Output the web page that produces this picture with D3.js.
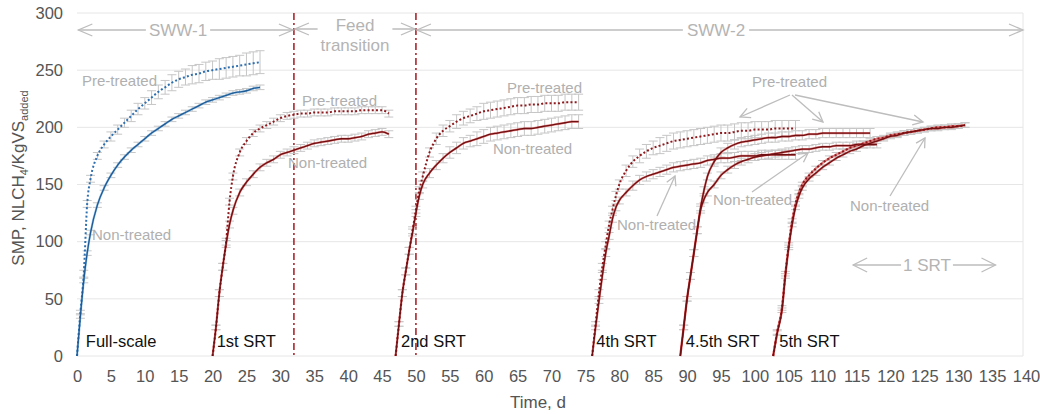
<!DOCTYPE html>
<html><head><meta charset="utf-8">
<script src="https://cdn.jsdelivr.net/npm/d3@7"></script>
<style>
body{margin:0;background:#fff}
svg{display:block;font-family:"Liberation Sans",Arial,Helvetica,sans-serif}
</style>
</head><body>
<svg id="chart" width="1040" height="414"></svg>
<script>
// ---------- DATA ----------
const xTicks = [0,5,10,15,20,25,30,35,40,45,50,55,60,65,70,75,80,85,90,95,100,105,110,115,120,125,130,135,140];
const yTicks = [0,50,100,150,200,250,300];
const phaseLines = [32, 50];               // feed-change days
const srtLabels = ["Full-scale","1st SRT","2nd SRT","4th SRT","4.5th SRT","5th SRT"];

// each point: [day, SMP (NL CH4/kg VS added), error]
const fullPre = [[0,0,1],[0.5,38,2],[1,72,3],[1.5,133,3],[2,155,3],[3,175,3],[4,185,3],[5,192,4],[6,198,4],[7,204,4],[8,210,5],[9,216,5],[10,221,5],[11,226,6],[12,231,6],[13,235,6],[14,239,7],[15,242,7],[16,244,7],[17,246,8],[18,247,8],[19,249,8],[20,250,8],[21,251,9],[22,252,9],[23,253,9],[24,254,9],[25,255,10],[26,256,10],[27,257,10]];
const fullNon = [[0,0,1],[0.5,35,2],[1,66,2],[1.5,90,2],[2,108,2],[3,132,2],[4,147,2],[5,158,2],[6,167,2],[7,174,2],[8,180,2],[9,185,2],[10,190,2],[11,195,2],[12,199,2],[13,203,2],[14,207,2],[15,210,2],[16,213,2],[17,216,2],[18,219,2],[19,222,2],[20,224,2],[21,226,2],[22,228,2],[23,230,2],[24,231,2],[25,232,2],[26,234,2],[27,235,2]];
const firstPre = [[20,0,1],[20.5,25,2],[21,55,3],[21.5,78,3],[22,100,3],[22.5,135,3],[23,157,3],[24,178,3],[25,188,3],[26,195,3],[27,199,3],[28,202,3],[29,205,3],[30,208,3],[31,210,3],[32,211,3],[33,212,3],[34,212,3],[35,213,3],[36,213,3],[37,213,3],[38,214,3],[39,214,3],[40,214,3],[41,214,3],[42,215,3],[43,215,3],[44,215,3],[45,215,3],[46,212,3]];
const firstNon = [[20,0,1],[20.5,25,2],[21,55,3],[21.5,78,3],[22,98,3],[22.5,115,3],[23,127,3],[24,143,3],[25,152,3],[26,159,3],[27,165,3],[28,169,3],[29,172,3],[30,176,3],[31,178,3],[32,180,3],[33,182,3],[34,184,3],[35,186,3],[36,187,3],[37,188,3],[38,189,3],[39,190,3],[40,190,3],[41,191,3],[42,192,3],[43,194,3],[44,195,3],[45,196,3],[46,194,3]];
const secondPre = [[47,0,1],[47.5,28,2],[48,55,3],[48.5,74,3],[49,92,3],[49.5,110,3],[50,128,3],[50.5,145,3],[51,157,4],[52,178,4],[53,190,5],[54,197,5],[55,201,5],[56,205,6],[57,208,6],[58,210,6],[59,212,6],[60,214,7],[61,215,7],[62,216,7],[63,217,7],[64,218,7],[65,219,7],[66,219,7],[67,220,7],[68,220,7],[69,221,7],[70,221,7],[71,221,7],[72,222,7],[73,222,7],[74,222,7]];
const secondNon = [[47,0,1],[47.5,28,2],[48,55,3],[48.5,74,3],[49,92,3],[49.5,108,3],[50,125,3],[50.5,140,3],[51,150,3],[52,160,4],[53,167,4],[54,173,4],[55,178,5],[56,182,5],[57,186,5],[58,188,5],[59,190,6],[60,192,6],[61,194,6],[62,195,6],[63,196,6],[64,197,6],[65,198,6],[66,199,6],[67,199,6],[68,200,6],[69,201,6],[70,202,6],[71,203,6],[72,204,6],[73,205,6],[74,205,6]];
const fourthPre = [[76,0,1],[76.5,28,2],[77,55,3],[77.5,78,3],[78,97,3],[78.5,115,3],[79,128,3],[79.5,140,4],[80,150,4],[81,162,5],[82,170,5],[83,175,6],[84,179,6],[85,182,6],[86,184,7],[87,186,7],[88,188,7],[89,189,7],[90,190,7],[91,191,7],[92,192,7],[93,193,7],[94,194,7],[95,195,7],[96,195,7],[97,196,7],[98,197,7],[99,197,7],[100,198,7],[101,198,7],[102,198,7],[103,199,7],[104,199,7],[105,199,7],[106,199,7]];
const fourthNon = [[76,0,1],[76.5,25,2],[77,48,2],[77.5,70,3],[78,90,3],[78.5,105,3],[79,120,3],[79.5,130,3],[80,136,3],[81,143,3],[82,149,4],[83,154,4],[84,157,4],[85,159,4],[86,161,4],[87,163,4],[88,165,4],[89,166,4],[90,167,4],[91,168,4],[92,169,4],[93,171,4],[94,172,4],[95,173,4],[96,173,4],[97,174,4],[98,175,4],[99,175,4],[100,175,4],[101,176,4],[102,176,4],[103,176,4],[104,176,4],[105,176,4],[106,176,4]];
const fourFivePre = [[89,0,1],[89.5,25,2],[90,50,2],[90.5,70,3],[91,90,3],[91.5,110,3],[92,130,3],[92.5,145,3],[93,157,3],[94,170,4],[95,178,4],[96,182,4],[97,185,4],[98,187,4],[99,188,4],[100,189,4],[101,190,4],[102,191,4],[103,191,4],[104,192,4],[105,192,4],[106,193,4],[107,193,4],[108,194,4],[109,194,4],[110,195,4],[111,195,4],[112,195,4],[113,195,4],[114,195,4],[115,195,4],[116,195,4],[117,195,4]];
const fourFiveNon = [[89,0,1],[89.5,25,2],[90,50,2],[90.5,70,3],[91,90,3],[91.5,110,3],[92,128,3],[92.5,137,3],[93,143,3],[94,150,3],[95,158,3],[96,163,3],[97,167,3],[98,170,3],[99,172,3],[100,174,3],[101,175,3],[102,176,3],[103,177,3],[104,178,3],[105,179,3],[106,180,3],[107,181,3],[108,181,3],[109,182,3],[110,183,3],[111,183,3],[112,184,3],[113,184,3],[114,184,3],[115,185,3],[116,185,3],[117,185,3],[118,185,3]];
const fifthPre = [[102.7,0,1],[103.3,21,2],[104,42,2],[104.5,72,2],[105,97,2],[105.5,118,2],[106,133,2],[106.5,143,2],[107,150,2],[108,158,2],[109,164,2],[110,169,2],[111,173,2],[112,176,2],[113,179,2],[114,182,2],[115,184,2],[116,186,2],[117,188,2],[118,190,2],[119,191,2],[120,193,2],[121,194,2],[122,195,2],[123,196,2],[124,197,2],[125,198,2],[126,199,2],[127,200,2],[128,200,2],[129,201,2],[130,201,2],[131,202,2]];
const fifthNon = [[102.7,0,1],[103.3,20,2],[104,40,2],[104.5,70,2],[105,95,2],[105.5,115,2],[106,130,2],[106.5,140,2],[107,147,2],[108,155,2],[109,160,2],[110,165,2],[111,169,2],[112,173,2],[113,176,2],[114,179,2],[115,181,2],[116,184,2],[117,186,2],[118,188,2],[119,190,2],[120,192,2],[121,193,2],[122,195,2],[123,196,2],[124,197,2],[125,198,2],[126,199,2],[127,199,2],[128,200,2],[129,200,2],[130,201,2],[131,202,2]];

// ---------- SETUP ----------
const svg = d3.select("#chart");
const x = d3.scaleLinear().domain([0,140]).range([77,1026]);
const y = d3.scaleLinear().domain([0,300]).range([356,13]);
const GRAY = "#bdbdbd", TXT = "#555555";

// grid
svg.append("g").selectAll("line").data(yTicks).join("line")
  .attr("x1", x(0)).attr("x2", x(140)-3).attr("y1", d=>y(d)).attr("y2", d=>y(d))
  .attr("stroke", "#e6e6e6").attr("stroke-width", 1);
svg.append("line").attr("x1", x(140)-3).attr("x2", x(140)-3).attr("y1", y(300)).attr("y2", y(0))
  .attr("stroke", "#e6e6e6");

// axes
const xAxis = svg.append("g").attr("transform", `translate(0,${y(0)})`)
  .call(d3.axisBottom(x).tickValues(xTicks).tickSize(0).tickPadding(14));
const yAxis = svg.append("g").attr("transform", `translate(${x(0)},0)`)
  .call(d3.axisLeft(y).tickValues(yTicks).tickSize(0).tickPadding(14));
[xAxis, yAxis].forEach(g => {
  g.select(".domain").remove();
  g.selectAll("text").attr("fill", TXT).attr("font-size", 16.5)
    .attr("font-family", '"Liberation Sans",Arial,sans-serif');
});

// axis titles
svg.append("text").attr("x", 538).attr("y", 408).attr("text-anchor","middle")
  .attr("font-size", 17).attr("fill", TXT).text("Time, d");
const yt = svg.append("text").attr("transform","translate(24,178) rotate(-90)")
  .attr("text-anchor","middle").attr("font-size",17).attr("fill",TXT);
yt.append("tspan").text("SMP, NLCH");
yt.append("tspan").attr("font-size",11).attr("dy",4).text("4");
yt.append("tspan").attr("dy",-4).text("/KgVS");
yt.append("tspan").attr("font-size",11).attr("dy",4).text("added");

// phase lines
svg.append("g").selectAll("line").data(phaseLines).join("line")
  .attr("x1", d=>x(d)).attr("x2", d=>x(d)).attr("y1", y(300)).attr("y2", y(0))
  .attr("stroke", "#a8282c").attr("stroke-width", 1.6).attr("stroke-dasharray","7,3,2,3");

// ---------- SERIES ----------
const series = [
  {data: fullPre,   dotted: true,  color: "#2e6faf", under: null},
  {data: fullNon,   dotted: false, color: "#1f5a95", under: "#5aa5e0"},
  {data: firstPre,  dotted: true,  color: "#8e1a1e", under: null},
  {data: firstNon,  dotted: false, color: "#6e0f12", under: "#d8302e"},
  {data: secondPre, dotted: true,  color: "#8e1a1e", under: null},
  {data: secondNon, dotted: false, color: "#6e0f12", under: "#d8302e"},
  {data: fourthPre, dotted: true,  color: "#8e1a1e", under: null},
  {data: fourthNon, dotted: false, color: "#6e0f12", under: "#d8302e"},
  {data: fourFivePre, dotted: false, color: "#6e0f12", under: "#d8302e"},
  {data: fourFiveNon, dotted: false, color: "#6e0f12", under: "#d8302e"},
  {data: fifthPre,  dotted: true,  color: "#8e1a1e", under: "#e04040"},
  {data: fifthNon,  dotted: false, color: "#6e0f12", under: "#d8302e"}
];

// error bars
const eb = svg.append("g").attr("stroke", "#c6c6c6").attr("stroke-width", 1).attr("fill","none");
series.forEach(s => {
  s.data.forEach(([d,v,e]) => {
    if (v === 0) return;
    const cx = x(d), y1 = y(v-e), y2 = y(v+e);
    eb.append("path").attr("d", `M${cx},${y1}V${y2}M${cx-4.5},${y1}H${cx+4.5}M${cx-4.5},${y2}H${cx+4.5}`);
  });
});

const line = d3.line().x(p=>x(p[0])).y(p=>y(p[1])).curve(d3.curveMonotoneX);
const lg = svg.append("g").attr("fill","none");
series.filter(s=>s.under).forEach(s => {
  lg.append("path").attr("d", line(s.data)).attr("stroke", s.under).attr("stroke-width", 2.2).attr("opacity",0.6);
});
series.forEach(s => {
  const p = lg.append("path").attr("d", line(s.data)).attr("stroke", s.color);
  if (s.dotted) p.attr("stroke-width", 2).attr("stroke-dasharray","2,2.2");
  else p.attr("stroke-width", 1.3);
});

// ---------- ANNOTATIONS ----------
const ann = svg.append("g");
function chevron(px, py, ang, len, hw) {
  const ca = Math.cos(ang), sa = Math.sin(ang);
  const bx = px - len*ca, by = py - len*sa;
  ann.append("path").attr("d",
    `M${bx - hw*sa},${by + hw*ca}L${px},${py}L${bx + hw*sa},${by - hw*ca}`)
    .attr("fill","none").attr("stroke", GRAY).attr("stroke-width", 1.3);
}
function arrow(x1,y1,x2,y2,both,len,hw){
  ann.append("line").attr("x1",x1).attr("y1",y1).attr("x2",x2).attr("y2",y2)
    .attr("stroke",GRAY).attr("stroke-width",1.3);
  const a = Math.atan2(y2-y1, x2-x1);
  chevron(x2,y2,a,len,hw);
  if (both) chevron(x1,y1,a+Math.PI,len,hw);
}
function label(txt, px, py, size, fill, anchor, bg) {
  const t = ann.append("text").attr("x",px).attr("y",py).attr("font-size",size)
    .attr("fill",fill).attr("text-anchor",anchor||"start").text(txt);
  if (bg) {
    const b = t.node().getBBox();
    ann.insert("rect", () => t.node()).attr("x",b.x-bg).attr("y",b.y).attr("width",b.width+2*bg)
      .attr("height",b.height).attr("fill","#fff");
  }
  return t;
}
// phase spans
arrow(x(0.2), 30, x(32)-1, 30, true, 14, 6);
label("SWW-1", 178, 36, 17, "#b4b4b4", "middle", 3);
arrow(x(32)+1, 29, x(50)-1, 29, true, 14, 6);
label("Feed", 355, 31, 17, "#b4b4b4", "middle", 18);
label("transition", 355, 51, 17, "#b4b4b4", "middle", 0);
arrow(x(50)+1, 30, x(140)-3, 30, true, 14, 6);
label("SWW-2", 716, 36, 17, "#b4b4b4", "middle", 4);
arrow(x(114.5), 265, x(135.5), 265, true, 14, 7);
label("1 SRT", 927, 271, 17, "#b4b4b4", "middle", 2);

// pre/non-treated labels
const LG = "#b0b0b0";
label("Pre-treated", 82, 86, 15, LG);
label("Non-treated", 92, 240, 15, LG);
label("Pre-treated", 302, 106, 15, LG);
label("Non-treated", 288, 168, 15, LG);
label("Pre-treated", 507, 93, 15, LG);
label("Non-treated", 493, 154, 15, LG);
label("Pre-treated", 752, 87, 15, LG);
label("Non-treated", 617, 230, 15, LG);
label("Non-treated", 713, 205, 15, LG);
label("Non-treated", 850, 211, 15, LG);
arrow(790, 95, 740, 117, false, 10, 5);
arrow(792, 95, 823, 122, false, 10, 5);
arrow(795, 95, 923, 122, false, 10, 5);
arrow(657, 216, 675, 176, false, 9, 5);
arrow(752, 192, 808, 153, false, 9, 5);
arrow(890, 196, 925, 138, false, 9, 5);

// SRT labels
const srtDays = [1.3, 20.6, 47.8, 76.6, 89.8, 103.6];
svg.append("g").selectAll("text").data(srtLabels).join("text")
  .attr("x", (d,i)=>x(srtDays[i])).attr("y", y(7.5))
  .attr("font-size", 16.5).attr("fill","#111").text(d=>d);
</script>
</body></html>
